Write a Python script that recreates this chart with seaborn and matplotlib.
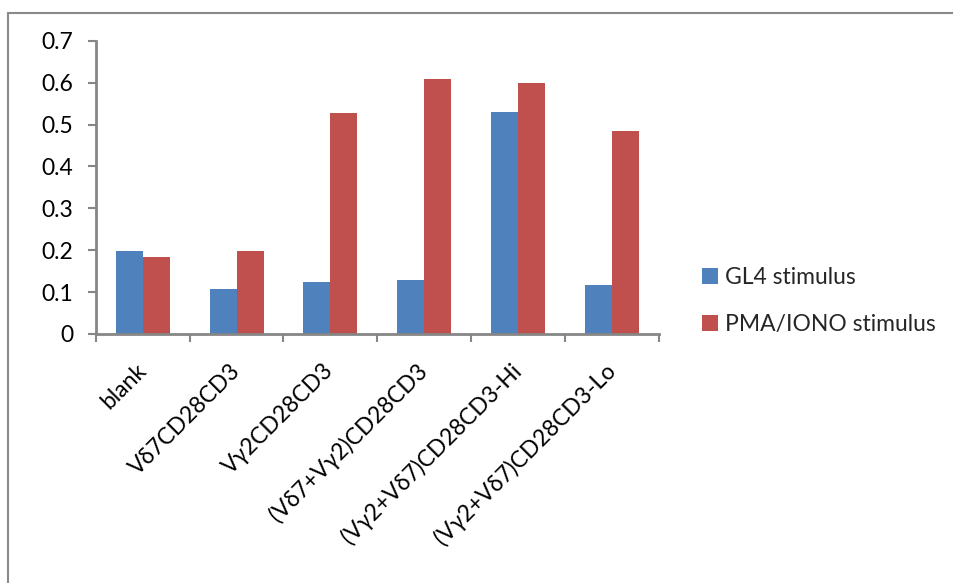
import matplotlib
matplotlib.use("Agg")
import matplotlib.pyplot as plt
from matplotlib.lines import Line2D
from matplotlib.patches import Patch
import pandas as pd
import seaborn as sns

categories = ["blank", "Vδ7CD28CD3", "Vγ2CD28CD3", "(Vδ7+Vγ2)CD28CD3",
              "(Vγ2+Vδ7)CD28CD3-Hi", "(Vγ2+Vδ7)CD28CD3-Lo"]
gl4_values = [0.197, 0.107, 0.125, 0.130, 0.531, 0.116]
pma_values = [0.183, 0.197, 0.527, 0.608, 0.598, 0.484]
series_names = ["GL4 stimulus", "PMA/IONO stimulus"]
y_ticks = [0, 0.1, 0.2, 0.3, 0.4, 0.5, 0.6, 0.7]
y_tick_labels = ["0", "0.1", "0.2", "0.3", "0.4", "0.5", "0.6", "0.7"]

df = pd.DataFrame({
    "category": categories * 2,
    "series": [series_names[0]] * len(categories) + [series_names[1]] * len(categories),
    "value": gl4_values + pma_values,
})

sns.set_style("white")
plt.rcParams["font.family"] = ["Lato", "DejaVu Sans"]

FS = 16.5
W, H = 954, 583
fig = plt.figure(figsize=(W / 100, H / 100), dpi=100)
ax = fig.add_axes([95.7 / W, (H - 334) / H, (659 - 95.7) / W, (334 - 40.7) / H])

palette = {series_names[0]: "#4F81BD", series_names[1]: "#C0504D"}
sns.barplot(data=df, x="category", y="value", hue="series", order=categories,
            hue_order=series_names, palette=palette, width=0.575, gap=0,
            saturation=1, edgecolor="none", legend=False, ax=ax)

axis_gray = "#868686"
ax.set_xlim(-0.5, len(categories) - 0.5)
ax.set_ylim(0, 0.7)
ax.set_yticks(y_ticks)
ax.set_yticklabels(y_tick_labels)
ax.set_xlabel("")
ax.set_ylabel("")
for side in ["top", "right"]:
    ax.spines[side].set_visible(False)
for side in ["left", "bottom"]:
    ax.spines[side].set_color(axis_gray)
    ax.spines[side].set_linewidth(2)

ax.tick_params(axis="y", which="major", left=True, length=6, width=1.5,
               color=axis_gray, pad=10, labelsize=FS, labelcolor="black")
ax.set_xticks(range(len(categories)))
ax.set_xticks([i - 0.5 for i in range(len(categories) + 1)], minor=True)
ax.tick_params(axis="x", which="minor", bottom=True, length=6, width=1.5, color=axis_gray)
ax.tick_params(axis="x", which="major", bottom=False, length=0, pad=24,
               labelsize=FS, labelcolor="black")
ax.set_xticklabels(categories, rotation=45, ha="right", va="center",
                   rotation_mode="anchor")

handles = [Patch(facecolor=palette[s], edgecolor="none") for s in series_names]
fig.legend(handles, series_names, loc="center left",
           bbox_to_anchor=(681 / W, 1 - 301 / H), frameon=False, fontsize=FS,
           handlelength=0.7, handleheight=0.7, handletextpad=0.3,
           labelspacing=1.1)

# chart frame (only the top and left edges fall inside the canvas)
fig.add_artist(Line2D([8.5 / W, 1], [1 - 12.5 / H, 1 - 12.5 / H],
                      transform=fig.transFigure, color="#8a8a8a", linewidth=1.5))
fig.add_artist(Line2D([8.5 / W, 8.5 / W], [0, 1 - 12.5 / H],
                      transform=fig.transFigure, color="#8a8a8a", linewidth=1.5))

fig.savefig("out.png", dpi=100, facecolor="white")
